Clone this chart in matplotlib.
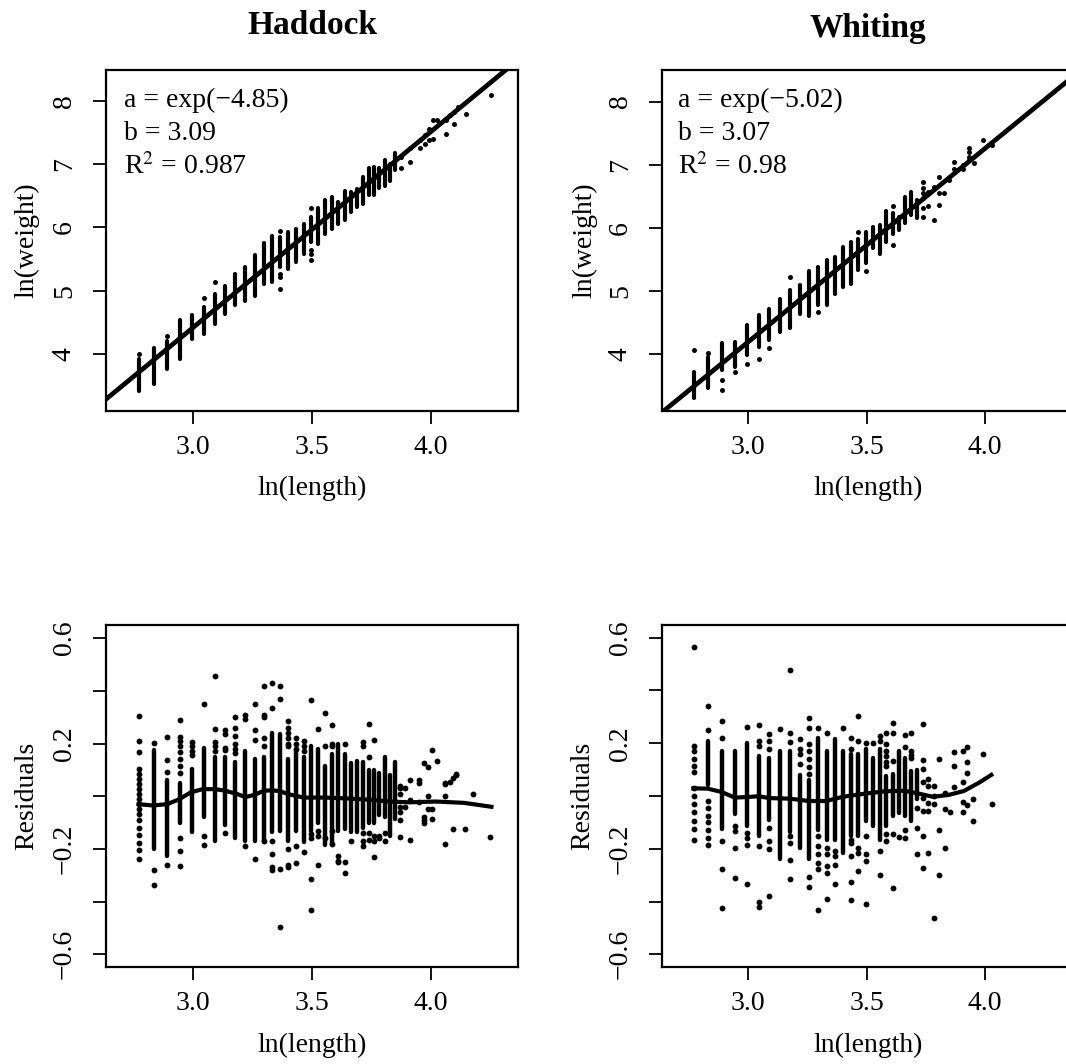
import matplotlib
matplotlib.use("Agg")
import matplotlib.pyplot as plt

plt.rcParams['font.family'] = ['Liberation Serif', 'DejaVu Serif']
plt.rcParams['mathtext.fontset'] = 'stix'

W, H = 1066, 1064

# Length classes (ln cm) shared by the dense columns
ln_cols = [2.773, 2.833, 2.890, 2.944, 2.996, 3.045, 3.091, 3.135, 3.178, 3.219, 3.258,
           3.296, 3.332, 3.367, 3.401, 3.434, 3.466, 3.497, 3.526, 3.555, 3.584, 3.611,
           3.638, 3.664, 3.689, 3.714, 3.738, 3.761, 3.784, 3.807, 3.829, 3.850]

# Fit values printed on the top panels
had_a, had_b = -4.85, 3.09
wht_a, wht_b = -5.02, 3.07

# Haddock ln(weight): one solid range per column, plus single points
had_top_x = ln_cols + [3.876, 3.911, 3.954, 3.975, 3.993, 4.010, 4.024, 4.063, 4.080,
                       4.098, 4.115, 4.150, 4.255]
had_top_lo = [3.42, 3.53, 3.76, 3.92, 4.24, 4.32, 4.47, 4.63, 4.77, 4.84, 4.92, 5.11, 5.13,
              5.37, 5.35, 5.45, 5.58, 5.77, 5.74, 5.90, 5.98, 6.06, 6.11, 6.24, 6.32, 6.37,
              6.51, 6.51, 6.62, 6.66, 6.74, 6.90]
had_top_hi = [3.92, 4.10, 4.21, 4.54, 4.61, 4.74, 4.95, 5.08, 5.27, 5.38, 5.56, 5.76, 5.87,
              5.85, 5.93, 5.98, 6.06, 6.16, 6.30, 6.43, 6.48, 6.40, 6.57, 6.56, 6.61, 6.79,
              6.93, 6.96, 6.93, 7.06, 7.00, 7.17]
had_top_dots = [[4.00], [], [4.29], [], [], [4.88], [5.13], [], [], [], [], [], [],
                [5.95, 5.27, 5.21, 5.03], [], [], [], [6.30, 5.64, 5.58, 5.49], [], [], [], [],
                [], [], [], [], [], [], [], [], [], [],
                [7.11, 6.93], [7.25, 7.03], [7.38, 7.26], [7.46, 7.32], [7.56, 7.38],
                [7.69, 7.40], [7.69], [7.48, 7.69], [7.77], [7.64, 7.82], [7.90], [7.79], [8.09]]

# Whiting ln(weight)
wht_top_x = ln_cols[:26] + [3.738, 3.761, 3.783, 3.807, 3.828, 3.849, 3.870, 3.905, 3.933,
                            3.952, 3.992, 4.029]
wht_top_lo = [3.30, 3.46, 3.75, 3.80, 3.98, 4.12, 4.22, 4.35, 4.41, 4.64, 4.60, 4.78, 4.78,
              4.96, 5.07, 5.11, 5.33, 5.44, 5.68, 5.58, 5.78, 5.91, 5.97, 6.07, 6.20, 6.15]
wht_top_hi = [3.72, 3.96, 4.17, 4.20, 4.46, 4.62, 4.72, 4.88, 5.01, 5.09, 5.31, 5.38, 5.49,
              5.54, 5.70, 5.77, 5.83, 5.94, 6.02, 6.05, 6.26, 6.23, 6.18, 6.49, 6.57, 6.44]
wht_top_dots = [[4.06], [4.02], [3.59, 3.43], [3.71], [3.85], [3.92], [4.09], [], [5.22], [],
                [], [4.67], [], [], [], [], [5.94], [5.31], [], [], [], [6.35, 5.73], [], [], [], [],
                [6.73, 6.63, 6.55, 6.47, 6.31, 6.18], [6.57, 6.34], [6.65, 6.13],
                [6.81, 6.55, 6.36], [6.55], [6.76], [7.05, 6.94], [6.94, 7.00],
                [7.26, 7.20, 7.13, 7.07], [7.02], [7.39], [7.31]]

# Haddock residuals
had_res_x = ln_cols + [3.871, 3.892, 3.912, 3.951, 3.970, 3.990, 4.007, 4.025, 4.060, 4.079,
                       4.094, 4.108, 4.143, 4.176, 4.250]
had_res_lo = [None, -0.20, -0.225, -0.10, -0.135, -0.08, -0.17, -0.11, -0.16, -0.17, -0.17,
              -0.175, -0.135, -0.13, -0.17, -0.13, -0.175, -0.13, -0.10, -0.185, -0.18, -0.13,
              -0.125, -0.135, -0.135, -0.12, -0.10, -0.10, -0.07, -0.08, -0.15, -0.085]
had_res_hi = [None, 0.175, 0.06, 0.05, 0.105, 0.185, 0.15, 0.15, 0.13, 0.17, 0.14, 0.15, 0.24,
              0.235, 0.14, 0.17, 0.15, 0.19, 0.18, 0.115, 0.16, 0.20, 0.16, 0.125, 0.135, 0.13,
              0.10, 0.10, 0.09, 0.15, 0.08, 0.13]
had_res_dots = [
    [0.305, 0.21, 0.168, 0.105, 0.086, 0.067, 0.048, 0.029, 0.01, -0.009, -0.028, -0.047,
     -0.066, -0.089, -0.119, -0.148, -0.176, -0.205, -0.237],
    [0.204, -0.281, -0.335],
    [0.224, 0.138, 0.092, -0.26],
    [0.289, 0.225, 0.21, 0.19, 0.168, 0.14, 0.115, 0.09, -0.158, -0.208, -0.263],
    [0.205, 0.19, 0.17, 0.155],
    [0.35, -0.15, -0.185],
    [0.455, 0.257, 0.205, 0.19, 0.17],
    [0.25, 0.235, 0.185, 0.175, -0.14],
    [0.30, 0.26, 0.23, 0.20, 0.18, 0.165],
    [0.31, 0.295, -0.19],
    [0.35, 0.25, 0.215, -0.24],
    [0.42, 0.31, 0.30, 0.22, 0.19, -0.17],
    [0.43, 0.335, -0.17, -0.22, -0.27, -0.28],
    [0.42, 0.37, -0.275, -0.495],
    [0.285, 0.26, 0.24, 0.22, 0.20, 0.19, -0.20, -0.26, -0.27],
    [0.22, 0.20, 0.18, -0.19, -0.255],
    [0.21, 0.19, 0.17, -0.21],
    [0.365, -0.145, -0.16, -0.315, -0.43],
    [0.255, -0.13, -0.15, -0.26],
    [0.315, 0.19, -0.16],
    [0.27, 0.20, 0.19, -0.13, -0.18],
    [-0.225, -0.245, -0.25],
    [0.20, -0.25, -0.29],
    [-0.17],
    [],
    [0.205, 0.19, -0.14, -0.17, -0.19],
    [0.275, 0.15, -0.14, -0.165],
    [0.215, -0.15, -0.17, -0.23],
    [-0.15, -0.16],
    [-0.17, -0.14],
    [],
    [],
    [0.04, 0.03, 0.01, -0.04, -0.06, -0.09, -0.155],
    [0.03, -0.04],
    [0.06, -0.015, -0.165],
    [0.06, 0.05, -0.02],
    [0.125, -0.08, -0.09, -0.10],
    [0.11, 0.0, -0.05],
    [0.175, -0.05, -0.085],
    [0.135],
    [0.05, 0.045, 0.0, -0.18],
    [0.055],
    [0.07, -0.125],
    [0.08, 0.085],
    [-0.125],
    [0.01],
    [-0.155],
]
had_smooth_x = [2.77, 2.83, 2.89, 2.94, 2.99, 3.04, 3.09, 3.13, 3.18, 3.22, 3.26, 3.295, 3.33,
                3.367, 3.40, 3.465, 3.555, 3.64, 3.74, 3.83, 3.91, 4.02, 4.14, 4.255]
had_smooth_y = [-0.03, -0.035, -0.03, -0.012, 0.015, 0.027, 0.027, 0.022, 0.01, -0.003, 0.006,
                0.02, 0.023, 0.019, 0.008, -0.005, -0.005, -0.008, -0.013, -0.02, -0.023,
                -0.02, -0.025, -0.04]

# Whiting residuals
wht_res_x = ln_cols + [3.870, 3.905, 3.925, 3.950, 3.992, 4.029]
wht_res_lo = [None, 0.04, -0.125, -0.07, -0.115, -0.15, -0.09, -0.24, -0.135, -0.196, -0.24,
              -0.127, -0.165, -0.165, -0.215, -0.15, -0.15, -0.095, -0.114, -0.165, -0.114,
              -0.076, -0.063, -0.076, -0.095, -0.013, None, None, None, None, None, None]
wht_res_hi = [None, 0.21, 0.17, 0.17, 0.20, 0.15, 0.145, 0.17, 0.17, 0.08, 0.06, 0.22, 0.17,
              0.215, 0.17, 0.158, 0.158, 0.177, 0.145, 0.177, 0.076, 0.082, 0.17, 0.145, 0.095,
              0.10, None, None, None, None, None, None]
wht_res_dots = [
    [0.563, 0.19, 0.17, 0.14, 0.115, 0.09, 0.03, 0.0, -0.03, -0.06, -0.095, -0.125, -0.165],
    [0.34, 0.25, -0.02, -0.045, -0.075, -0.10, -0.13, -0.16, -0.187],
    [0.285, 0.218, -0.17, -0.275, -0.425],
    [-0.115, -0.133, -0.197, -0.31],
    [0.26, -0.14, -0.16, -0.185, -0.335],
    [0.27, 0.21, 0.19, -0.19, -0.40, -0.42],
    [0.235, 0.21, 0.177, -0.12, -0.17, -0.20, -0.38],
    [0.255],
    [0.477, 0.24, 0.206, -0.15, -0.177, -0.243, -0.313],
    [0.215, 0.18, 0.158, 0.12],
    [0.295, 0.257, 0.196, 0.17, 0.14, 0.11, 0.085, -0.308, -0.345],
    [0.257, -0.15, -0.19, -0.22, -0.253, -0.278, -0.433],
    [0.238, -0.196, -0.22, -0.266, -0.29, -0.39],
    [-0.21, -0.228, -0.263, -0.335],
    [0.256],
    [0.218, 0.18, -0.165, -0.177, -0.228, -0.327, -0.395],
    [0.304, 0.21, -0.196, -0.215, -0.285],
    [0.20, -0.15, -0.22, -0.247, -0.41],
    [0.20],
    [0.228, 0.21, -0.21, -0.30],
    [0.24, 0.196, 0.17, 0.15, 0.13, 0.114, -0.145, -0.17],
    [0.276, 0.238, 0.133, -0.145, -0.347],
    [-0.154],
    [0.23, 0.186, -0.127, -0.158],
    [0.24, 0.17, 0.155, 0.145],
    [-0.044, -0.12, -0.219],
    [0.272, 0.137, 0.104, 0.053, -0.006, -0.057, -0.15, -0.272],
    [0.063, 0.038, -0.025, -0.057, -0.215],
    [0.038, 0.0, -0.032, -0.462],
    [0.142, -0.127, -0.30],
    [0.013, -0.05, -0.196],
    [-0.06],
    [0.168, 0.114, 0.034],
    [0.17, 0.053, -0.023, -0.06],
    [0.186, 0.127, 0.089, -0.035],
    [-0.01, -0.096],
    [0.16],
    [-0.032],
]
wht_smooth_x = [2.77, 2.83, 2.89, 2.944, 2.995, 3.045, 3.09, 3.177, 3.257, 3.33, 3.40, 3.494,
                3.58, 3.66, 3.71, 3.78, 3.846, 3.91, 3.975, 4.026]
wht_smooth_y = [0.029, 0.028, 0.015, -0.006, -0.004, -0.001, -0.008, -0.01, -0.019, -0.019,
                -0.003, 0.009, 0.018, 0.02, 0.011, -0.003, 0.004, 0.019, 0.051, 0.08]

top_yticks = [4, 5, 6, 7, 8]
res_yticks = [-0.6, -0.4, -0.2, 0.0, 0.2, 0.4, 0.6]
res_ylabels = ['\u22120.6', '', '\u22120.2', '', '0.2', '', '0.6']
x_ticks = [3.0, 3.5, 4.0]
x_labels = ['3.0', '3.5', '4.0']


def panel(left, right, top, bottom, xlim, ylim):
    ax = fig.add_axes([left / W, 1 - bottom / H, (right - left) / W, (bottom - top) / H])
    ax.set_xlim(xlim)
    ax.set_ylim(ylim)
    for s in ax.spines.values():
        s.set_linewidth(1.6)
    ax.set_xticks(x_ticks, x_labels)
    ax.tick_params(axis='both', length=9.5, width=1.3, labelsize=20)
    ax.tick_params(axis='x', pad=7.5)
    ax.tick_params(axis='y', pad=11.5)
    return ax


def draw_cols(ax, xs, lo, hi, dots, ms, lw):
    for x, a, b in zip(xs, lo, hi):
        if a is not None:
            ax.vlines(x, a, b, color='black', lw=lw, capstyle='round')
    for x, ys in zip(xs, dots):
        ax.plot([x] * len(ys), ys, 'o', color='black', ms=ms, mew=0)


def put(x, y, s, **kw):
    fig.text(x / W, 1 - y / H, s, ha=kw.pop('ha', 'center'), va='center', **kw)


fig = plt.figure(figsize=(W / 100, H / 100), dpi=100)

# Top panels
ax1 = panel(106, 518, 70, 411, (2.633, 4.367), (3.10, 8.485))
draw_cols(ax1, had_top_x, had_top_lo, had_top_hi, had_top_dots, 3.6, 3.0)
ax1.axline((0, had_a), slope=had_b, color='black', lw=3.4)
ax1.set_yticks(top_yticks, [str(t) for t in top_yticks])

ax2 = panel(662, 1073, 70, 411, (2.638, 4.37), (3.10, 8.50))
draw_cols(ax2, wht_top_x, wht_top_lo, wht_top_hi, wht_top_dots, 3.6, 3.0)
ax2.axline((0, wht_a), slope=wht_b, color='black', lw=3.4)
ax2.set_yticks(top_yticks, [str(t) for t in top_yticks])

# Residual panels
ax3 = panel(106, 518, 625, 967, (2.633, 4.367), (-0.648, 0.65))
draw_cols(ax3, had_res_x, had_res_lo, had_res_hi, had_res_dots, 4.2, 3.2)
ax3.plot(had_smooth_x, had_smooth_y, color='black', lw=3.0)
ax3.set_yticks(res_yticks, res_ylabels)

ax4 = panel(662, 1073, 625, 967, (2.638, 4.37), (-0.648, 0.648))
draw_cols(ax4, wht_res_x, wht_res_lo, wht_res_hi, wht_res_dots, 4.2, 3.2)
ax4.plot(wht_smooth_x, wht_smooth_y, color='black', lw=3.0)
ax4.set_yticks(res_yticks, res_ylabels)

for ax in (ax1, ax2, ax3, ax4):
    for lab in ax.get_yticklabels():
        lab.set_rotation(90)
        lab.set_va('center')

# Titles and axis labels
put(312, 25, 'Haddock', fontsize=24, fontweight='bold')
put(868, 28, 'Whiting', fontsize=24, fontweight='bold')
put(312, 488, 'ln(length)', fontsize=20)
put(868, 488, 'ln(length)', fontsize=20)
put(312, 1045, 'ln(length)', fontsize=20)
put(868, 1045, 'ln(length)', fontsize=20)
put(27, 240, 'ln(weight)', fontsize=20, rotation=90)
put(585, 240, 'ln(weight)', fontsize=20, rotation=90)
put(27, 796, 'Residuals', fontsize=20, rotation=90)
put(583, 796, 'Residuals', fontsize=20, rotation=90)

# Fit annotations
put(124, 100, 'a = exp(\u22124.85)', fontsize=20, ha='left')
put(124, 133, 'b = 3.09', fontsize=20, ha='left')
put(124, 167, 'R$^2$ = 0.987', fontsize=20, ha='left')
put(678, 100, 'a = exp(\u22125.02)', fontsize=20, ha='left')
put(678, 133, 'b = 3.07', fontsize=20, ha='left')
put(678, 167, 'R$^2$ = 0.98', fontsize=20, ha='left')

fig.savefig('out.png', dpi=100)
